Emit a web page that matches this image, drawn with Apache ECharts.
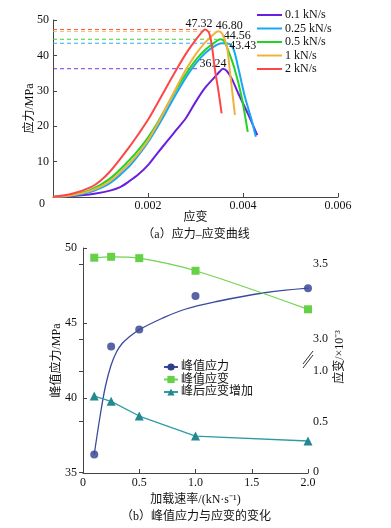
<!DOCTYPE html>
<html><head><meta charset="utf-8">
<script src="https://cdn.jsdelivr.net/npm/echarts@6/dist/echarts.min.js"></script>
<style>html,body{margin:0;padding:0;background:#fff}#c{width:391px;height:528px}</style>
</head><body><div id="c"></div>
<script>
// ---------- (a) stress-strain curves: [strain, stress MPa] ----------
const rateNames = ['0.1 kN/s', '0.25 kN/s', '0.5 kN/s', '1 kN/s', '2 kN/s'];
const curve01 = [[0,0],[0.0003,0.2],[0.0006,0.5],[0.0009,1.0],[0.0012,1.8],[0.0014,2.7],[0.0016,4.4],[0.0018,6.4],[0.0020,9.0],[0.0022,12.4],[0.0024,15.7],[0.0026,19.0],[0.0028,22.3],[0.0030,26.8],[0.0032,30.8],[0.0034,33.8],[0.0035,35.3],[0.00358,36.24],[0.00366,35.6],[0.00376,33.5],[0.0039,29.3],[0.0041,23.6],[0.0043,17.5]];
const curve025 = [[0,0],[0.0004,0.4],[0.0008,1.5],[0.0012,3.9],[0.0016,8.6],[0.0018,11.8],[0.0020,15.5],[0.0022,19.8],[0.0024,24.5],[0.0026,29.3],[0.0028,33.8],[0.0030,37.6],[0.0032,40.6],[0.0034,42.6],[0.00355,43.43],[0.0037,43.3],[0.0038,41.8],[0.0039,36.5],[0.00404,28.3],[0.00418,21.8],[0.00427,17.0]];
const curve05 = [[0,0],[0.0004,0.6],[0.0008,2.1],[0.0012,5.2],[0.0016,10.3],[0.0018,13.3],[0.0020,16.8],[0.0022,21.0],[0.0024,25.8],[0.0026,30.5],[0.0028,34.8],[0.0030,38.6],[0.0032,41.5],[0.0034,43.6],[0.00352,44.56],[0.0036,44.1],[0.0037,41.0],[0.00383,35.9],[0.00397,28.3],[0.0041,18.4]];
const curve1 = [[0,0],[0.0004,0.5],[0.0008,1.8],[0.0012,4.5],[0.0016,9.4],[0.0018,12.4],[0.0020,16.0],[0.0022,20.6],[0.0024,25.8],[0.0026,31.0],[0.0028,36.0],[0.0030,40.2],[0.0032,43.6],[0.0034,46.2],[0.00348,46.8],[0.00356,46.2],[0.00366,42.5],[0.00372,36.0],[0.00377,30.2],[0.00383,23.2]];
const curve2 = [[0,0],[0.0004,0.9],[0.0008,2.8],[0.0010,4.6],[0.0012,7.2],[0.0014,10.5],[0.0016,14.0],[0.0018,17.8],[0.0020,21.8],[0.0022,26.5],[0.0024,31.3],[0.0026,36.0],[0.0028,40.5],[0.0030,44.3],[0.0031,46.0],[0.0032,47.32],[0.00328,46.5],[0.00334,43.2],[0.00341,35.9],[0.00348,30.2],[0.00355,23.6]];
const peakStress = [36.24, 43.43, 44.56, 46.80, 47.32];
const peakStrain = [0.00358, 0.00355, 0.00352, 0.00348, 0.0032];
const dashEnd = [0.00305, 0.00335, 0.00345, 0.0034, 0.0031];

// ---------- (b) peak values vs loading rate ----------
const rates = [0.1, 0.25, 0.5, 1.0, 2.0];
const fitRate = [0.1, 0.15, 0.2, 0.25, 0.3, 0.35, 0.4, 0.5, 0.7, 0.9, 1.2, 1.6, 2.0];
const fitStress = [36.24, 38.7, 40.8, 42.2, 43.1, 43.65, 44.0, 44.55, 45.3, 45.9, 46.45, 47.0, 47.32];
const peakStrainE3 = [3.542, 3.548, 3.539, 3.455, 3.198];
const postPeakInc = [0.752, 0.70, 0.554, 0.356, 0.307];
const legendB = ['峰值应力', '峰值应变', '峰后应变增加'];

const curves = [curve01, curve025, curve05, curve1, curve2];
const colors = ['#6a1fe0', '#1aa6f5', '#22d422', '#f0b23c', '#ff4646'];
const labelOffsets = [[-10,-5], [21,3], [17,-3], [11,-5], [-6,-5.5]];
const FONT = "'Liberation Serif','Noto Sans CJK SC',serif";
const axisCol = '#444';

const seriesA = curves.map((c, i) => ({
  name: rateNames[i], type: 'line', xAxisIndex: 0, yAxisIndex: 0,
  data: c, smooth: 0.3, symbol: 'none', z: 3 + i,
  lineStyle: { width: 2, color: colors[i] }, itemStyle: { color: colors[i] },
  markPoint: {
    symbol: 'circle', symbolSize: 0,
    label: { show: true, position: 'inside', offset: labelOffsets[i], color: '#111',
      fontFamily: FONT, fontSize: 12, formatter: p => p.value.toFixed(2) },
    data: [{ coord: [peakStrain[i], peakStress[i]], value: peakStress[i] }]
  }
}));
const dashSeries = peakStress.map((v, i) => ({
  name: 'peak-' + i, type: 'line', xAxisIndex: 0, yAxisIndex: 0, z: 2, silent: true,
  data: [[0, v], [dashEnd[i], v]], symbol: 'none',
  lineStyle: { type: [4, 3], width: 1, color: colors[i], opacity: 0.9 }
}));

const pair = (xs, ys) => xs.map((x, i) => [x, ys[i]]);
const tickLbl = { fontFamily: FONT, fontSize: 12, color: '#111' };
const nameTS = { fontFamily: FONT, fontSize: 12, color: '#111' };

const option = {
  animation: false,
  backgroundColor: '#fff',
  grid: [
    { left: 53, top: 20, width: 285, height: 177 },
    { left: 83, top: 248, width: 225, height: 225 },
    { left: 83, top: 264, width: 225, height: 84 },
    { left: 83, top: 369, width: 225, height: 103 }
  ],
  legend: [
    { data: rateNames.map(n => ({ name: n, icon: 'rect' })), orient: 'vertical', left: 257, top: 9, padding: 0,
      itemWidth: 25, itemHeight: 2, itemGap: 1.5,
      textStyle: { fontFamily: FONT, fontSize: 12, color: '#111', padding: [0, 0, 0, -2] } },
    { data: legendB, orient: 'vertical', left: 163, top: 361, padding: 0, itemWidth: 14, itemHeight: 9, itemGap: 0.5,
      textStyle: { fontFamily: FONT, fontSize: 12, color: '#111', padding: [0, 0, 0, -2] } }
  ],
  xAxis: [
    { gridIndex: 0, type: 'value', min: 0, max: 0.006, interval: 0.002,
      name: '应变', nameLocation: 'middle', nameGap: 15, nameMoveOverlap: false, nameTextStyle: nameTS,
      axisLine: { lineStyle: { color: axisCol } }, axisTick: { inside: true, length: 4, lineStyle: { color: axisCol } },
      axisLabel: Object.assign({ margin: 3, showMinLabel: false, formatter: v => v === 0 ? '' : v.toFixed(3) }, tickLbl),
      splitLine: { show: false } },
    { gridIndex: 1, type: 'value', min: 0, max: 2, interval: 0.5,
      name: '加载速率/(kN·s⁻¹)', nameLocation: 'middle', nameGap: 21, nameMoveOverlap: false, nameTextStyle: nameTS,
      axisLine: { lineStyle: { color: axisCol } }, axisTick: { inside: true, length: 4, lineStyle: { color: axisCol } },
      axisLabel: Object.assign({ margin: 4, formatter: v => v === 0 ? '0' : v.toFixed(1) }, tickLbl),
      splitLine: { show: false } },
    { gridIndex: 2, type: 'value', min: 0, max: 2, show: false },
    { gridIndex: 3, type: 'value', min: 0, max: 2, show: false }
  ],
  yAxis: [
    { gridIndex: 0, type: 'value', min: 0, max: 50, interval: 10,
      name: '应力/MPa', nameLocation: 'middle', nameGap: 17, nameMoveOverlap: false, nameTextStyle: nameTS,
      axisLine: { show: true, lineStyle: { color: axisCol } }, axisTick: { show: true, inside: true, length: 4, lineStyle: { color: axisCol } },
      axisLabel: Object.assign({ margin: 4, showMinLabel: false, formatter: v => v === 0 ? '' : String(v) }, tickLbl),
      splitLine: { show: false } },
    { gridIndex: 1, type: 'value', min: 35, max: 50, interval: 5,
      name: '峰值应力/MPa', nameLocation: 'middle', nameGap: 20, nameMoveOverlap: false, nameTextStyle: nameTS,
      axisLine: { show: true, lineStyle: { color: axisCol } }, axisTick: { show: true, inside: true, length: 4, lineStyle: { color: axisCol } },
      axisLabel: Object.assign({ margin: 6 }, tickLbl), splitLine: { show: false } },
    { gridIndex: 2, type: 'value', position: 'right', min: 2.94, max: 3.5,
      axisLine: { show: true, lineStyle: { color: axisCol } },
      axisTick: { show: true, inside: true, length: 4, customValues: [3.0, 3.5], lineStyle: { color: axisCol } },
      axisLabel: Object.assign({ margin: 5, customValues: [3.0, 3.5], formatter: v => v.toFixed(1) }, tickLbl),
      splitLine: { show: false } },
    { gridIndex: 3, type: 'value', position: 'right', min: 0, max: 1.0198,
      axisLine: { show: true, lineStyle: { color: axisCol } },
      axisTick: { show: true, inside: true, length: 4, customValues: [0, 0.5, 1.0], lineStyle: { color: axisCol } },
      axisLabel: Object.assign({ margin: 5, customValues: [0, 0.5, 1.0], formatter: v => v === 0 ? '0' : v.toFixed(1) }, tickLbl),
      splitLine: { show: false } }
  ],
  series: seriesA.concat(dashSeries, [
    { name: '峰值应力', type: 'line', xAxisIndex: 1, yAxisIndex: 1, data: pair(fitRate, fitStress),
      smooth: 0.4, symbol: 'circle', symbolSize: 8, showSymbol: false,
      lineStyle: { width: 1.3, color: '#3b4a9c' }, itemStyle: { color: '#2f3d8c' } },
    { name: '峰值应力', type: 'scatter', xAxisIndex: 1, yAxisIndex: 1, data: pair(rates, peakStress),
      symbol: 'circle', symbolSize: 8, itemStyle: { color: '#2f3d8c' } },
    { name: '峰值应变', type: 'line', xAxisIndex: 2, yAxisIndex: 2, data: pair(rates, peakStrainE3),
      smooth: 0.3, clip: false, symbol: 'rect', symbolSize: 8,
      lineStyle: { width: 1.3, color: '#6fd452' }, itemStyle: { color: '#66d046' } },
    { name: '峰后应变增加', type: 'line', xAxisIndex: 3, yAxisIndex: 3, data: pair(rates, postPeakInc),
      smooth: false, clip: false, symbol: 'triangle', symbolSize: 9,
      lineStyle: { width: 1.3, color: '#2f9ba6' }, itemStyle: { color: '#23888f' } }
  ]),
  graphic: [
    { type: 'text', left: 39, top: 198, style: { text: '0', font: "12px " + FONT, fill: '#111' } },
    { type: 'text', x: 196, y: 235, style: { text: '（a）应力–应变曲线', font: "12px " + FONT, fill: '#111', align: 'center', verticalAlign: 'middle' } },
    { type: 'text', x: 196, y: 517, style: { text: '（b）峰值应力与应变的变化', font: "12px " + FONT, fill: '#111', align: 'center', verticalAlign: 'middle' } },
    { type: 'text', x: 340, y: 357, rotation: Math.PI / 2, style: { text: '应变/×10⁻³', font: "12px " + FONT, fill: '#111', align: 'center', verticalAlign: 'middle' } },
    { type: 'line', shape: { x1: 303, y1: 364, x2: 313, y2: 351 }, style: { stroke: '#333', lineWidth: 1 } },
    { type: 'line', shape: { x1: 303, y1: 368, x2: 313, y2: 355 }, style: { stroke: '#333', lineWidth: 1 } }
  ]
};

const chart = echarts.init(document.getElementById('c'), null, { renderer: 'canvas' });
chart.setOption(option);
</script>
</body></html>
